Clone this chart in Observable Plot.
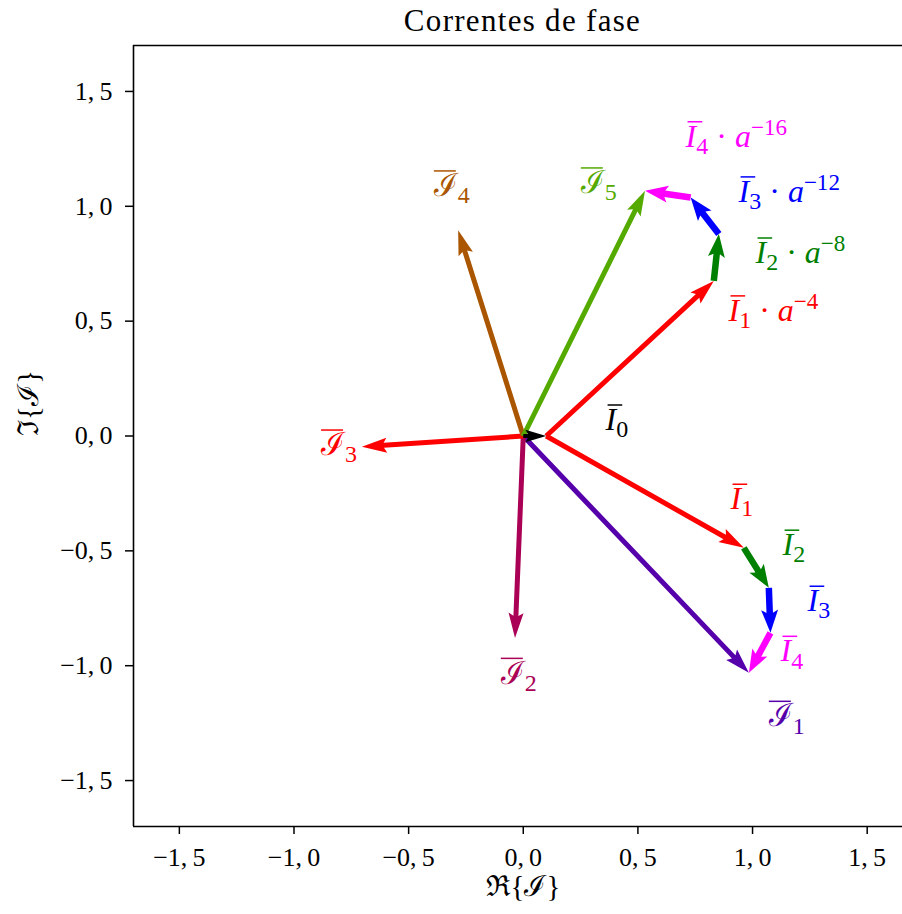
<!DOCTYPE html>
<html><head><meta charset="utf-8">
<script src="https://cdn.jsdelivr.net/npm/d3@7"></script>
<script src="https://cdn.jsdelivr.net/npm/@observablehq/plot@0.6"></script>
<style>
html,body{margin:0;padding:0;background:#fff;overflow:hidden;}
#wrap{position:relative;width:902px;height:914px;}
#title{position:absolute;left:522.5px;top:5px;transform:translateX(-50%);white-space:nowrap;
  font-family:"Liberation Serif","DejaVu Serif",serif;font-size:31px;line-height:31px;letter-spacing:1.3px;color:#000;}
#chart{position:absolute;left:0;top:35px;}
</style></head>
<body>
<div id="wrap"><div id="title">Correntes de fase</div><div id="chart"></div></div>
<script>
// ---- data ----
const xTicks = [-1.5, -1, -0.5, 0, 0.5, 1, 1.5];
const yTicks = [-1.5, -1, -0.5, 0, 0.5, 1, 1.5];
const xLabel = "ℜ{ℐ}";
const yLabel = "ℑ{ℐ}";

// phase currents ℐ1..ℐ5 drawn from the origin
const phaseRe = [0.984, -0.036, -0.704, -0.284, 0.531];
const phaseIm = [-1.031, -0.879, -0.047, 0.896, 1.068];
const phaseColors = ["#5500aa", "#aa0055", "#ff0000", "#aa5500", "#55aa00"];

// zero-sequence component I0
const zeroRe = 0.10;
const zeroIm = 0.0;

// lower chain tips: I1, I2, I3, I4 (head to tail starting at I0)
const lowerRe = [0.962, 1.071, 1.078, 0.984];
const lowerIm = [-0.487, -0.661, -0.857, -1.031];
// upper chain tips: I1·a^-4, I2·a^-8, I3·a^-12, I4·a^-16
const upperRe = [0.831, 0.853, 0.730, 0.531];
const upperIm = [0.675, 0.879, 1.038, 1.068];
const seqColors = ["#ff0000", "#008000", "#0000ff", "#ff00ff"];

// labels
const labelBase = ["I","I","I","I","I","I","I","I","I","ℐ","ℐ","ℐ","ℐ","ℐ"];
const labelSub  = ["0","1","2","3","4","1","2","3","4","1","2","3","4","5"];
const labelExp  = ["","","","","","−4","−8","−12","−16","","","","",""];
const labelRe   = [0.359, 0.904, 1.131, 1.240, 1.122, 0.895, 1.013, 0.939, 0.708, 1.071, -0.098, -0.882, -0.390, 0.251];
const labelIm   = [0.070, -0.275, -0.475, -0.719, -0.937, 0.545, 0.797, 1.063, 1.303, -1.220, -1.033, -0.039, 1.089, 1.102];
const labelColors = ["#000000","#ff0000","#008000","#0000ff","#ff00ff","#ff0000","#008000","#0000ff","#ff00ff",
                     "#5500aa","#aa0055","#ff0000","#aa5500","#55aa00"];

// ---- layout ----
const W = 902, H = 879;
const mL = 133, mR = 0, mT = 10, mB = 88;
const xDomain = [-1.7, 1.654];
const yDomain = [-1.7, 1.7];
const ppu = (W - mL - mR) / (xDomain[1] - xDomain[0]);

const LONG = {w: 5, hw: 15, hl: 25, ha: 22};
const SHORT = {w: 6.5, hw: 17, hl: 23, ha: 20};

function arrowPoly(id, x0, y0, x1, y1, st, color, out) {
  const dx = x1 - x0, dy = y1 - y0;
  const len = Math.hypot(dx, dy);
  const Lpx = len * ppu;
  const k = Lpx < st.hl * 1.1 ? Lpx / (st.hl * 1.1) : 1;
  const w = st.w * k / ppu / 2, hw = st.hw * k / ppu / 2, hl = st.hl * k / ppu, ha = st.ha * k / ppu;
  const ux = dx / len, uy = dy / len, nx = -uy, ny = ux;
  const pts = [
    [x0 + nx * w, y0 + ny * w],
    [x1 - ux * ha + nx * w, y1 - uy * ha + ny * w],
    [x1 - ux * hl + nx * hw, y1 - uy * hl + ny * hw],
    [x1, y1],
    [x1 - ux * hl - nx * hw, y1 - uy * hl - ny * hw],
    [x1 - ux * ha - nx * w, y1 - uy * ha - ny * w],
    [x0 - nx * w, y0 - ny * w]
  ];
  for (const [x, y] of pts) out.push({id, x, y, color});
}

const polys = [];
phaseRe.forEach((re, i) => arrowPoly("P" + i, 0, 0, re, phaseIm[i], LONG, phaseColors[i], polys));
let cx = zeroRe, cy = zeroIm;
lowerRe.forEach((re, i) => {
  arrowPoly("L" + i, cx, cy, re, lowerIm[i], i === 0 ? LONG : SHORT, seqColors[i], polys);
  cx = re; cy = lowerIm[i];
});
cx = zeroRe; cy = zeroIm;
upperRe.forEach((re, i) => {
  arrowPoly("U" + i, cx, cy, re, upperIm[i], i === 0 ? LONG : SHORT, seqColors[i], polys);
  cx = re; cy = upperIm[i];
});
arrowPoly("Z", 0, 0, zeroRe, zeroIm, LONG, "#000000", polys);

const fmt = d => (d < 0 ? "−" : "") + Math.abs(d).toFixed(1).replace(".", ",\u2009");
const serif = "'Liberation Serif','DejaVu Serif',serif";
const FS = 32;
const labelText = i => labelBase[i] + labelSub[i] + (labelExp[i] ? " · a" + labelExp[i] : "");

const svg = Plot.plot({
  width: W, height: H,
  marginLeft: mL, marginRight: mR, marginTop: mT, marginBottom: mB,
  x: {domain: xDomain},
  y: {domain: yDomain},
  color: {type: "identity"},
  style: {fontFamily: serif, background: "#fff", overflow: "visible"},
  marks: [
    Plot.ruleX([xDomain[0]], {stroke: "#000", strokeWidth: 1.6}),
    Plot.ruleY(yDomain, {stroke: "#000", strokeWidth: 1.6}),
    Plot.axisX(xTicks, {tickSize: 8, tickPadding: 13, tickFormat: fmt, fontSize: 26, label: null, strokeWidth: 1.5}),
    Plot.axisY(yTicks, {tickSize: 8, tickPadding: 13, tickFormat: fmt, fontSize: 26, label: null, strokeWidth: 1.5}),
    Plot.text([xLabel], {frameAnchor: "bottom", dx: 5, dy: 69, text: d => d, fontSize: 29, fill: "#000"}),
    Plot.text([yLabel], {frameAnchor: "left", dx: -105, text: d => d, fontSize: 29, rotate: -90, fill: "#000"}),
    Plot.line(polys, {x: "x", y: "y", z: "id", fill: "color", stroke: "none", curve: "linear"}),
    Plot.text(d3.range(labelBase.length), {
      x: i => labelRe[i], y: i => labelIm[i],
      text: labelText,
      fill: i => labelColors[i], textAnchor: "start", fontSize: FS
    })
  ]
});

// rich formatting (italic, sub/superscripts) for vector labels
const wanted = d3.range(labelBase.length).map(labelText);
const richTexts = [];
d3.select(svg).selectAll("text").each(function() {
  const j = wanted.indexOf(this.textContent);
  if (j < 0 || this.querySelector("tspan")) return;
  const t = d3.select(this);
  t.text(null);
  const b = labelBase[j];
  t.append("tspan").attr("font-style", b === "I" ? "italic" : null).text(b);
  t.append("tspan").attr("font-size", FS * 0.75).attr("dy", FS * 0.22).text(labelSub[j]);
  if (labelExp[j]) {
    t.append("tspan").attr("dy", -FS * 0.22).text(" · ");
    t.append("tspan").attr("font-style", "italic").text("a");
    t.append("tspan").attr("font-size", FS * 0.72).attr("dy", -FS * 0.37).text(labelExp[j]);
  }
  richTexts.push([this, j]);
});

document.getElementById("chart").appendChild(svg);

// overline bars above the base symbol of each label
for (const [el, j] of richTexts) {
  const ext = el.getExtentOfChar(0);
  const italic = labelBase[j] === "I";
  const x1 = ext.x + (italic ? 2 : 0);
  const x2 = ext.x + ext.width + (italic ? 6 : -2);
  const y = ext.y + FS * 0.12;
  const ln = document.createElementNS("http://www.w3.org/2000/svg", "line");
  ln.setAttribute("x1", x1); ln.setAttribute("x2", x2);
  ln.setAttribute("y1", y); ln.setAttribute("y2", y);
  ln.setAttribute("stroke", labelColors[j]);
  ln.setAttribute("stroke-width", 1.5);
  const tr = el.getAttribute("transform");
  if (tr) ln.setAttribute("transform", tr);
  el.parentNode.appendChild(ln);
}
</script>
</body></html>
